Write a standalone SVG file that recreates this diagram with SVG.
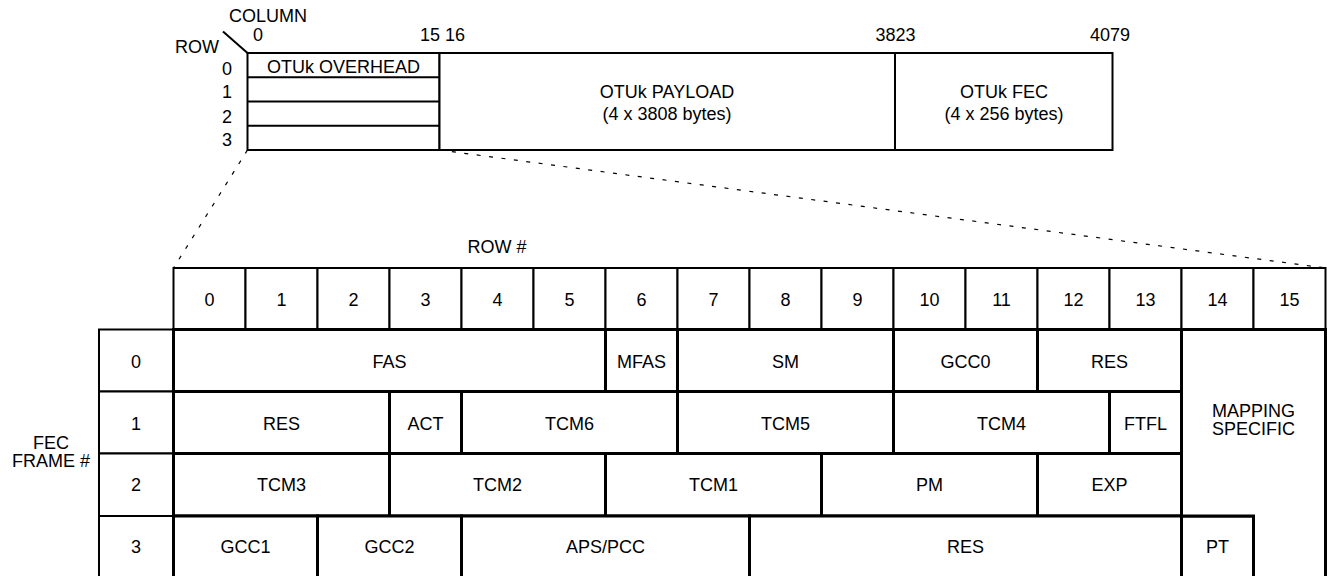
<svg xmlns="http://www.w3.org/2000/svg" width="1327" height="576" viewBox="0 0 1327 576">
<style>
text{font-family:"Liberation Sans",Arial,Helvetica,sans-serif;font-size:18px;fill:#000}
.m{text-anchor:middle}
.e{text-anchor:end}
.thin{fill:#fff;stroke:#000;stroke-width:2}
.thick{fill:#fff;stroke:#000;stroke-width:3}
.ln{stroke:#000;stroke-width:2;fill:none}
.dash{stroke:#000;stroke-width:1.2;fill:none;stroke-dasharray:4 8.5}
</style>
<rect width="1327" height="576" fill="#fff"/>

<!-- Top OTUk frame -->
<g id="otuk-frame">
  <text x="268" y="22" class="m">COLUMN</text>
  <text x="197" y="53" class="m">ROW</text>
  <line x1="223" y1="31.5" x2="247.5" y2="53" class="ln"/>
  <text x="253" y="41">0</text>
  <text x="440" y="41" class="e">15</text>
  <text x="445" y="41">16</text>
  <text x="895.5" y="41" class="m">3823</text>
  <text x="1110" y="41" class="m">4079</text>
  <text x="232" y="75" class="e">0</text>
  <text x="232" y="98" class="e">1</text>
  <text x="232" y="122.5" class="e">2</text>
  <text x="232" y="146" class="e">3</text>
</g>
<g id="otuk-overhead">
  <rect x="247.5" y="53" width="192" height="97" class="thin"/>
  <line x1="247.5" y1="77.25" x2="439.5" y2="77.25" class="ln"/>
  <line x1="247.5" y1="101.5" x2="439.5" y2="101.5" class="ln"/>
  <line x1="247.5" y1="125.75" x2="439.5" y2="125.75" class="ln"/>
  <text x="343.5" y="73" class="m">OTUk OVERHEAD</text>
</g>
<g id="otuk-payload">
  <rect x="439.5" y="53" width="455.5" height="97" class="thin"/>
  <text x="667" y="98" class="m">OTUk PAYLOAD</text>
  <text x="667" y="120" class="m">(4 x 3808 bytes)</text>
</g>
<g id="otuk-fec">
  <rect x="895" y="53" width="217.5" height="97" class="thin"/>
  <text x="1004" y="98" class="m">OTUk FEC</text>
  <text x="1004" y="120" class="m">(4 x 256 bytes)</text>
</g>

<!-- Connectors (zoom lines) -->
<g id="connectors">
  <line x1="247.5" y1="150" x2="173.5" y2="268" class="dash"/>
  <line x1="439.5" y1="150" x2="1325.5" y2="268" class="dash"/>
</g>

<!-- Axis labels -->
<g id="labels">
  <text x="497" y="253" class="m">ROW #</text>
  <text x="51" y="449" class="m">FEC</text>
  <text x="51" y="467" class="m">FRAME #</text>
</g>

<!-- Header row (column numbers) -->
<g id="header">
  <rect x="173.5" y="268" width="72" height="61.5" class="thin"/>
  <rect x="245.5" y="268" width="72" height="61.5" class="thin"/>
  <rect x="317.5" y="268" width="72" height="61.5" class="thin"/>
  <rect x="389.5" y="268" width="72" height="61.5" class="thin"/>
  <rect x="461.5" y="268" width="72" height="61.5" class="thin"/>
  <rect x="533.5" y="268" width="72" height="61.5" class="thin"/>
  <rect x="605.5" y="268" width="72" height="61.5" class="thin"/>
  <rect x="677.5" y="268" width="72" height="61.5" class="thin"/>
  <rect x="749.5" y="268" width="72" height="61.5" class="thin"/>
  <rect x="821.5" y="268" width="72" height="61.5" class="thin"/>
  <rect x="893.5" y="268" width="72" height="61.5" class="thin"/>
  <rect x="965.5" y="268" width="72" height="61.5" class="thin"/>
  <rect x="1037.5" y="268" width="72" height="61.5" class="thin"/>
  <rect x="1109.5" y="268" width="72" height="61.5" class="thin"/>
  <rect x="1181.5" y="268" width="72" height="61.5" class="thin"/>
  <rect x="1253.5" y="268" width="72" height="61.5" class="thin"/>
  <text x="209.5" y="306" class="m">0</text>
  <text x="281.5" y="306" class="m">1</text>
  <text x="353.5" y="306" class="m">2</text>
  <text x="425.5" y="306" class="m">3</text>
  <text x="497.5" y="306" class="m">4</text>
  <text x="569.5" y="306" class="m">5</text>
  <text x="641.5" y="306" class="m">6</text>
  <text x="713.5" y="306" class="m">7</text>
  <text x="785.5" y="306" class="m">8</text>
  <text x="857.5" y="306" class="m">9</text>
  <text x="929.5" y="306" class="m">10</text>
  <text x="1001.5" y="306" class="m">11</text>
  <text x="1073.5" y="306" class="m">12</text>
  <text x="1145.5" y="306" class="m">13</text>
  <text x="1217.5" y="306" class="m">14</text>
  <text x="1289.5" y="306" class="m">15</text>
</g>

<!-- FEC frame numbers -->
<g id="frame-numbers">
  <rect x="99" y="329.5" width="74.5" height="62" class="thin"/>
  <rect x="99" y="391.5" width="74.5" height="62" class="thin"/>
  <rect x="99" y="453.5" width="74.5" height="62.5" class="thin"/>
  <rect x="99" y="516" width="74.5" height="66" class="thin"/>
  <text x="136" y="368" class="m">0</text>
  <text x="136" y="429.5" class="m">1</text>
  <text x="136" y="491" class="m">2</text>
  <text x="136" y="553" class="m">3</text>
</g>

<!-- Row 0 -->
<g id="fas"><rect x="173.5" y="329.5" width="432" height="62" class="thick"/><text x="389.5" y="368" class="m">FAS</text></g>
<g id="mfas"><rect x="605.5" y="329.5" width="72" height="62" class="thick"/><text x="641.5" y="368" class="m">MFAS</text></g>
<g id="sm"><rect x="677.5" y="329.5" width="216" height="62" class="thick"/><text x="785.5" y="368" class="m">SM</text></g>
<g id="gcc0"><rect x="893.5" y="329.5" width="144" height="62" class="thick"/><text x="965.5" y="368" class="m">GCC0</text></g>
<g id="res0"><rect x="1037.5" y="329.5" width="144" height="62" class="thick"/><text x="1109.5" y="368" class="m">RES</text></g>

<!-- Row 1 -->
<g id="res1"><rect x="173.5" y="391.5" width="216" height="62" class="thick"/><text x="281.5" y="429.5" class="m">RES</text></g>
<g id="act"><rect x="389.5" y="391.5" width="72" height="62" class="thick"/><text x="425.5" y="429.5" class="m">ACT</text></g>
<g id="tcm6"><rect x="461.5" y="391.5" width="216" height="62" class="thick"/><text x="569.5" y="429.5" class="m">TCM6</text></g>
<g id="tcm5"><rect x="677.5" y="391.5" width="216" height="62" class="thick"/><text x="785.5" y="429.5" class="m">TCM5</text></g>
<g id="tcm4"><rect x="893.5" y="391.5" width="216" height="62" class="thick"/><text x="1001.5" y="429.5" class="m">TCM4</text></g>
<g id="ftfl"><rect x="1109.5" y="391.5" width="72" height="62" class="thick"/><text x="1145.5" y="429.5" class="m">FTFL</text></g>

<!-- Row 2 -->
<g id="tcm3"><rect x="173.5" y="453.5" width="216" height="62.5" class="thick"/><text x="281.5" y="491" class="m">TCM3</text></g>
<g id="tcm2"><rect x="389.5" y="453.5" width="216" height="62.5" class="thick"/><text x="497.5" y="491" class="m">TCM2</text></g>
<g id="tcm1"><rect x="605.5" y="453.5" width="216" height="62.5" class="thick"/><text x="713.5" y="491" class="m">TCM1</text></g>
<g id="pm"><rect x="821.5" y="453.5" width="216" height="62.5" class="thick"/><text x="929.5" y="491" class="m">PM</text></g>
<g id="exp"><rect x="1037.5" y="453.5" width="144" height="62.5" class="thick"/><text x="1109.5" y="491" class="m">EXP</text></g>

<!-- Row 3 -->
<g id="gcc1"><rect x="173.5" y="516" width="144" height="66" class="thick"/><text x="245.5" y="553" class="m">GCC1</text></g>
<g id="gcc2"><rect x="317.5" y="516" width="144" height="66" class="thick"/><text x="389.5" y="553" class="m">GCC2</text></g>
<g id="aps-pcc"><rect x="461.5" y="516" width="288" height="66" class="thick"/><text x="605.5" y="553" class="m">APS/PCC</text></g>
<g id="res3"><rect x="749.5" y="516" width="432" height="66" class="thick"/><text x="965.5" y="553" class="m">RES</text></g>
<g id="pt"><rect x="1181.5" y="516" width="72" height="66" class="thick"/><text x="1217.5" y="553" class="m">PT</text></g>

<!-- Mapping specific (L-shaped) -->
<g id="mapping-specific">
  <path d="M1181.5 329.5 H1325.5 V582 H1253.5 V516 H1181.5 Z" class="thick"/>
  <text x="1253.5" y="417" class="m">MAPPING</text>
  <text x="1253.5" y="435" class="m">SPECIFIC</text>
</g>
</svg>
